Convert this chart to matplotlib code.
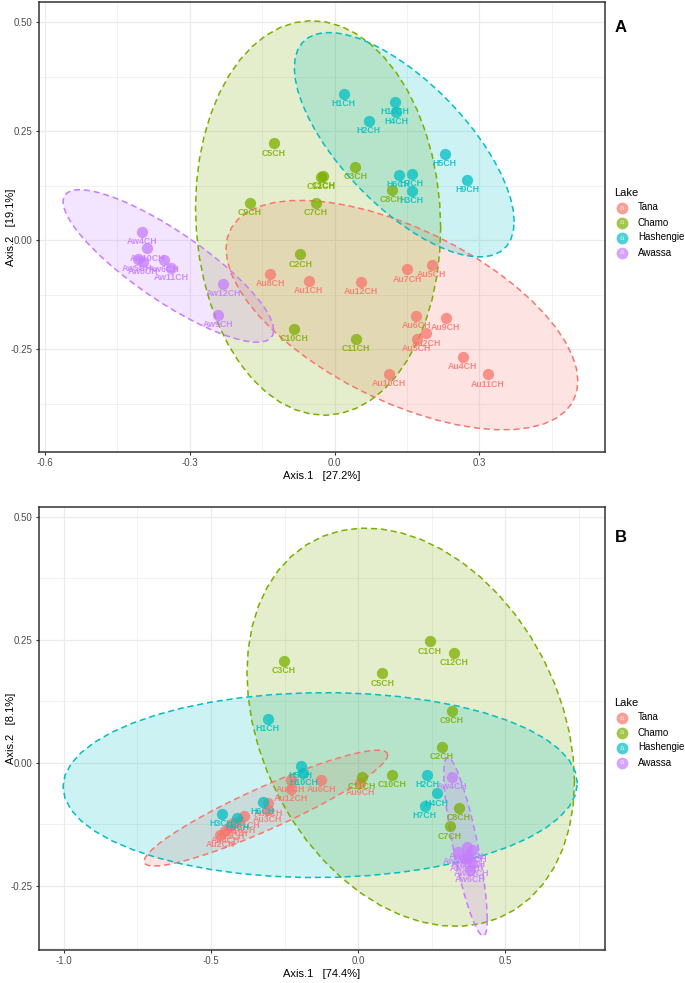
import numpy as np
import matplotlib.pyplot as plt

plt.rcParams['font.family'] = ['Liberation Sans', 'DejaVu Sans']

lakes = ['Tana', 'Chamo', 'Hashengie', 'Awassa']
colors = ['#F8766D', '#7CAE00', '#00BFC4', '#C77CFF']

# sample names per lake
tana_names = ['Au1CH', 'Au2CH', 'Au3CH', 'Au4CH', 'Au5CH', 'Au6CH',
              'Au7CH', 'Au8CH', 'Au9CH', 'Au10CH', 'Au11CH', 'Au12CH']
chamo_names = ['C1CH', 'C2CH', 'C3CH', 'C5CH', 'C7CH', 'C8CH',
               'C9CH', 'C10CH', 'C11CH', 'C12CH']
hash_names = ['H1CH', 'H2CH', 'H3CH', 'H4CH', 'H5CH', 'H6CH', 'H7CH', 'H9CH', 'H10CH']
awassa_names = ['Aw4CH', 'Aw5CH', 'Aw6CH', 'Aw8CH', 'Aw9CH', 'Aw10CH', 'Aw11CH', 'Aw12CH']

# panel A (Axis.1 27.2%, Axis.2 19.1%)
a_tana_x = [-0.053, 0.190, 0.170, 0.265, 0.201, 0.169, 0.151, -0.133, 0.230, 0.113, 0.318, 0.054]
a_tana_y = [-0.093, -0.214, -0.226, -0.268, -0.057, -0.174, -0.067, -0.077, -0.178, -0.306, -0.308, -0.096]
a_chamo_x = [-0.023, -0.071, 0.043, -0.126, -0.039, 0.119, -0.176, -0.084, 0.044, -0.028]
a_chamo_y = [0.148, -0.033, 0.167, 0.222, 0.086, 0.116, 0.086, -0.204, -0.226, 0.145]
a_hash_x = [0.019, 0.0705, 0.160, 0.128, 0.228, 0.133, 0.160, 0.275, 0.125]
a_hash_y = [0.335, 0.274, 0.113, 0.294, 0.197, 0.149, 0.151, 0.138, 0.317]
a_awassa_x = [-0.398, -0.408, -0.353, -0.396, -0.242, -0.388, -0.338, -0.230]
a_awassa_y = [0.019, -0.044, -0.046, -0.050, -0.172, -0.019, -0.063, -0.100]

# panel B (Axis.1 74.4%, Axis.2 8.1%)
b_tana_x = [-0.305, -0.469, -0.307, -0.452, -0.435, -0.125, -0.424, -0.229, 0.008, -0.404, -0.388, -0.229]
b_tana_y = [-0.082, -0.146, -0.096, -0.138, -0.129, -0.035, -0.123, -0.035, -0.040, -0.117, -0.108, -0.052]
b_chamo_x = [0.244, 0.285, -0.252, 0.082, 0.313, 0.342, 0.320, 0.117, 0.014, 0.327]
b_chamo_y = [0.247, 0.033, 0.207, 0.182, -0.129, -0.091, 0.106, -0.024, -0.029, 0.224]
b_hash_x = [-0.307, 0.235, -0.464, 0.268, -0.195, -0.324, 0.227, -0.412, -0.186]
b_hash_y = [0.089, -0.024, -0.104, -0.062, -0.006, -0.079, -0.088, -0.111, -0.020]
b_awassa_x = [0.319, 0.341, 0.381, 0.387, 0.365, 0.370, 0.375, 0.387]
b_awassa_y = [-0.029, -0.180, -0.217, -0.177, -0.195, -0.170, -0.187, -0.204]

names = [tana_names, chamo_names, hash_names, awassa_names]


def ellipse(xs, ys, level=0.95, segments=51):
    # like stat_ellipse(type = "norm"): sample covariance, F-based radius
    pts = np.column_stack([xs, ys])
    center = pts.mean(axis=0)
    shape = np.cov(pts.T)
    dfd = len(xs) - 1
    fq = dfd / 2 * ((1 - level) ** (-2 / dfd) - 1)   # qf(level, 2, dfd)
    radius = np.sqrt(2 * fq)
    ang = np.linspace(0, 2 * np.pi, segments)
    circ = np.column_stack([np.cos(ang), np.sin(ang)])
    ch = np.linalg.cholesky(shape).T
    e = center + radius * circ @ ch
    return e[:, 0], e[:, 1]


def draw_panel(ax, xs, ys, xlim, ylim, xticks, yticks, xlab, ylab):
    for i in range(4):
        ex, ey = ellipse(xs[i], ys[i])
        ax.fill(ex, ey, color=colors[i], alpha=0.2, lw=0, zorder=2)
        ax.plot(ex, ey, color=colors[i], lw=1.1, ls=(0, (4, 2.5)), zorder=3)
    for i in range(4):
        ax.scatter(xs[i], ys[i], s=66, color=colors[i], alpha=0.75, lw=0, zorder=4)
        for nm, x, y in zip(names[i], xs[i], ys[i]):
            ax.annotate(nm, (x, y), xytext=(0, -7), textcoords='offset points',
                        ha='center', va='center', fontsize=6.3, fontweight='bold',
                        color=colors[i], alpha=0.85, zorder=5)
    ax.set_xlim(xlim)
    ax.set_ylim(ylim)
    ax.set_xticks(xticks)
    ax.set_yticks(yticks)
    ax.set_xticks([(a + b) / 2 for a, b in zip(xticks[:-1], xticks[1:])] +
                  [xticks[-1] + (xticks[1] - xticks[0]) / 2], minor=True)
    ax.set_yticks([(a + b) / 2 for a, b in zip(yticks[:-1], yticks[1:])] +
                  [yticks[0] - (yticks[1] - yticks[0]) / 2], minor=True)
    ax.grid(which='major', color='#EBEBEB', lw=0.9, zorder=0)
    ax.grid(which='minor', color='#EBEBEB', lw=0.5, zorder=0)
    ax.set_axisbelow(True)
    ax.tick_params(which='major', labelsize=7, labelcolor='#4D4D4D', color='#333333',
                   length=2.5, width=0.8, pad=2)
    ax.tick_params(which='minor', length=0)
    for sp in ax.spines.values():
        sp.set_color('#333333')
        sp.set_linewidth(1.1)
    ax.set_xlabel(xlab, fontsize=8, labelpad=2)
    ax.set_ylabel(ylab, fontsize=8)
    ax.yaxis.set_label_coords(-23 / 566, 0.5)


def draw_legend(fig, top):
    fig.text(614 / 685, 1 - top / 983, 'Lake', fontsize=8, va='center', ha='left')
    for i, lk in enumerate(lakes):
        yy = 1 - (top + 14.5 + 15 * i) / 983
        fig.lines.append(plt.Line2D([622 / 685], [yy], marker='o', ms=8.5, color=colors[i],
                                    alpha=0.7, mec='none', transform=fig.transFigure))
        fig.text(622 / 685, yy, 'a', fontsize=5.5, color='white', alpha=0.7,
                 ha='center', va='center', family='DejaVu Serif')
        fig.text(638 / 685, yy, lk, fontsize=7, va='center', ha='left')


fig = plt.figure(figsize=(6.85, 9.83), dpi=100)
axA = fig.add_axes([39 / 685, 1 - 452 / 983, (605 - 39) / 685, (452 - 2) / 983])
axB = fig.add_axes([39 / 685, 1 - 950 / 983, (605 - 39) / 685, (950 - 507) / 983])

draw_panel(axA, [a_tana_x, a_chamo_x, a_hash_x, a_awassa_x],
           [a_tana_y, a_chamo_y, a_hash_y, a_awassa_y],
           (-0.612, 0.560), (-0.486, 0.546), [-0.6, -0.3, 0.0, 0.3],
           [-0.25, 0.0, 0.25, 0.5], 'Axis.1   [27.2%]', 'Axis.2   [19.1%]')
draw_panel(axB, [b_tana_x, b_chamo_x, b_hash_x, b_awassa_x],
           [b_tana_y, b_chamo_y, b_hash_y, b_awassa_y],
           (-1.085, 0.840), (-0.380, 0.520), [-1.0, -0.5, 0.0, 0.5],
           [-0.25, 0.0, 0.25, 0.5], 'Axis.1   [74.4%]', 'Axis.2   [8.1%]')
axA.set_xticklabels(['-0.6', '-0.3', '0.0', '0.3'])
axA.set_yticklabels(['-0.25', '0.00', '0.25', '0.50'])
axB.set_xticklabels(['-1.0', '-0.5', '0.0', '0.5'])
axB.set_yticklabels(['-0.25', '0.00', '0.25', '0.50'])

draw_legend(fig, 193)
draw_legend(fig, 703)
fig.text(615 / 685, 1 - 28 / 983, 'A', fontsize=12, fontweight='bold', va='center')
fig.text(615 / 685, 1 - 537 / 983, 'B', fontsize=12, fontweight='bold', va='center')

fig.savefig('out.png', dpi=100)
